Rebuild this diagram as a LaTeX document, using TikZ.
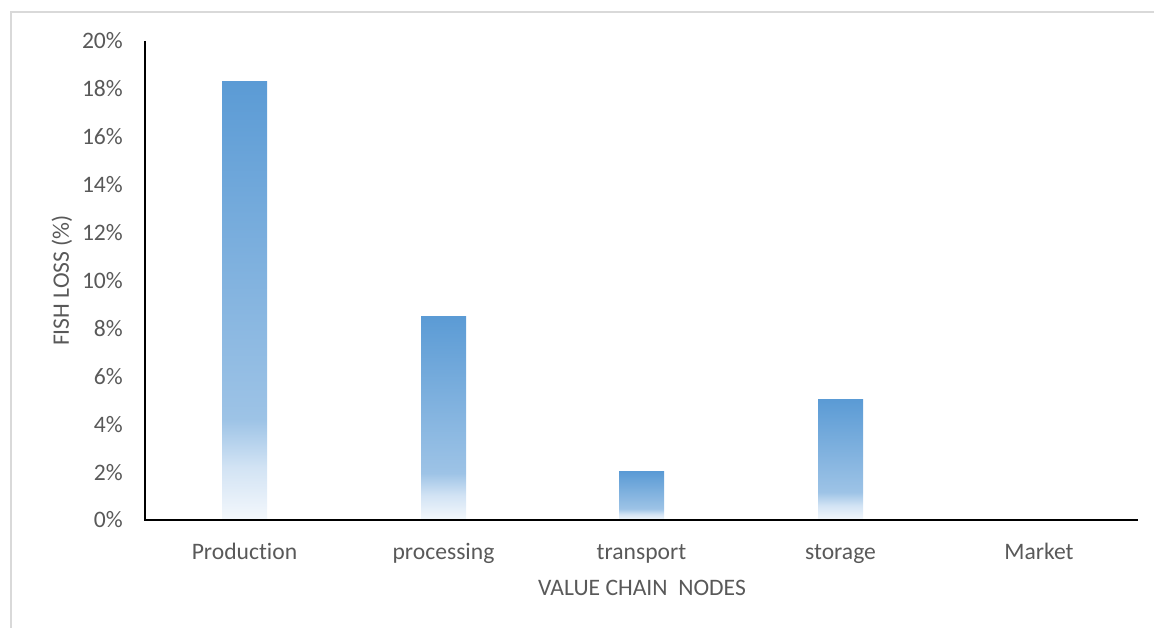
\documentclass[tikz,border=0pt]{standalone}
\usepackage{fontspec}
\setmainfont[Ligatures=NoCommon]{Carlito}
\usepackage{tikz}
\usetikzlibrary{positioning}
\usepackage{xcolor}

\definecolor{labelGray}{HTML}{595959}
\definecolor{frameGray}{HTML}{D9D9D9}
\definecolor{fadeTop}{HTML}{5B9BD5}
\definecolor{fadeKnee}{HTML}{9DC3E6}
\definecolor{fadeMid}{HTML}{D2E3F4}
\definecolor{fadeLow}{HTML}{F4F8FC}
\pgfdeclareverticalshading{barFade}{100bp}{color(0bp)=(fadeLow); color(25bp)=(fadeLow); color(31bp)=(fadeMid); color(36.5bp)=(fadeKnee); color(75bp)=(fadeTop); color(100bp)=(fadeTop)}

\begin{document}
\begin{tikzpicture}[
  x=1pt, y=1pt,
  font=\fontsize{23.6}{28}\selectfont,
  tickLabel/.style={text=labelGray, anchor=east, inner sep=0pt},
  catLabel/.style={text=labelGray, inner sep=0pt, anchor=base},
  axisTitle/.style={text=labelGray, inner sep=0pt},
  barBox/.style={shading=barFade, draw=none, inner sep=0pt, minimum width=45pt, anchor=south},
  axisLine/.style={black, line width=1.6pt},
  frameLine/.style={frameGray, line width=1.6pt},
]
\useasboundingbox (0,0) rectangle (1154,628);

% --- chart frame (left and top edge only) ---
\coordinate (frameBL) at (11,0);
\coordinate (frameTL) at (11,616);
\coordinate (frameTR) at (1154,616);
\draw[frameLine] (frameBL) -- (frameTL) -- (frameTR);

% --- bars ---
\node[barBox, minimum height=438.3pt] (barProd) at (244.5,108) {};
\node[barBox, minimum height=203.6pt] (barProc) at (443.5,108) {};
\node[barBox, minimum height=47.9pt] (barTrans) at (641.5,108) {};
\node[barBox, minimum height=119.8pt] (barStor) at (840.5,108) {};

% --- axes ---
\coordinate (origin) at (145,108);
\coordinate (yTop) at (145,587);
\coordinate (xEnd) at (1138,108);
\draw[axisLine] (yTop) -- (origin) -- (xEnd);

% --- y tick labels ---
\node[tickLabel] (t0) at (123,108) {0\%};
\node[tickLabel] (t2) at (123,155.9) {2\%};
\node[tickLabel] (t4) at (123,203.8) {4\%};
\node[tickLabel] (t6) at (123,251.7) {6\%};
\node[tickLabel] (t8) at (123,299.6) {8\%};
\node[tickLabel] (t10) at (123,347.5) {10\%};
\node[tickLabel] (t12) at (123,395.4) {12\%};
\node[tickLabel] (t14) at (123,443.3) {14\%};
\node[tickLabel] (t16) at (123,491.2) {16\%};
\node[tickLabel] (t18) at (123,539.1) {18\%};
\node[tickLabel] (t20) at (123,587) {20\%};

% --- category labels ---
\node[catLabel] (cProd) at (244.5,68) {Production};
\node[catLabel] (cProc) at (443.5,68) {processing};
\node[catLabel] (cTrans) at (641.5,68) {transport};
\node[catLabel] (cStor) at (840.5,68) {storage};
\node[catLabel] (cMark) at (1039,68) {Market};

% --- axis titles ---
\node[axisTitle] (xTitle) at (642,40) {VALUE CHAIN\ \ NODES};
\node[axisTitle, rotate=90] (yTitle) at (62,347.5) {FISH LOSS (\%)};

\end{tikzpicture}
\end{document}
